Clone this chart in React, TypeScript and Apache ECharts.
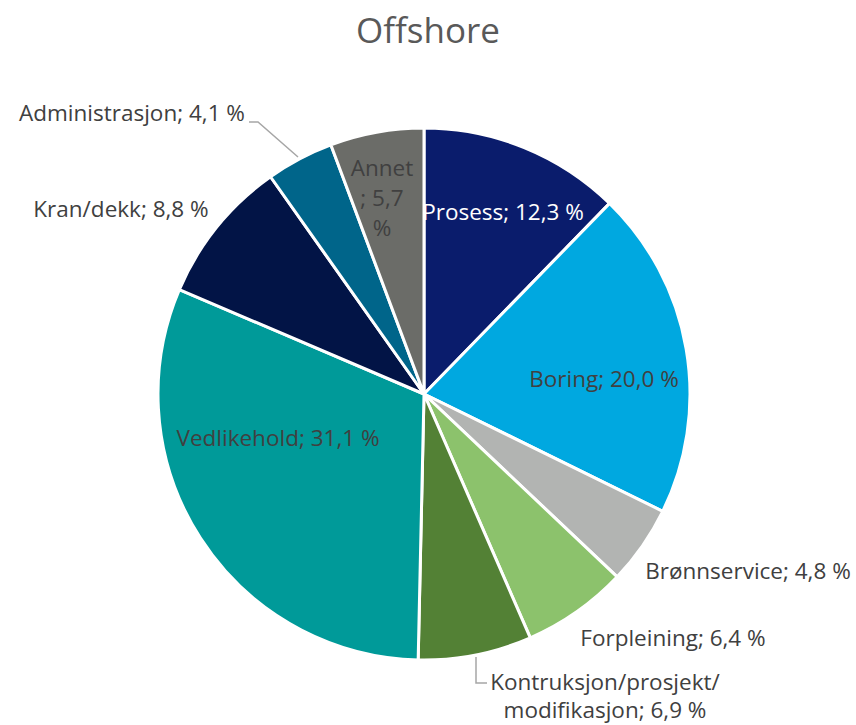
import React, { useEffect, useRef } from "react";
import * as echarts from "echarts";

const categories = [
  "Prosess",
  "Boring",
  "Brønnservice",
  "Forpleining",
  "Kontruksjon/prosjekt/\nmodifikasjon",
  "Vedlikehold",
  "Kran/dekk",
  "Administrasjon",
  "Annet",
];
const values = [12.3, 20.0, 4.8, 6.4, 6.9, 31.1, 8.8, 4.1, 5.7];
const colors = [
  "#0A1C6C",
  "#00A8E0",
  "#B2B4B2",
  "#8CC26C",
  "#538135",
  "#009A99",
  "#021446",
  "#00658A",
  "#6B6C68",
];

// label placement (layout only)
const labelPos: { x: number; y: number; color: string; lh: number; line?: number[][] }[] = [
  { x: 503, y: 211, color: "#ffffff", lh: 30 },
  { x: 604, y: 378, color: "#404040", lh: 30 },
  { x: 748, y: 570, color: "#404040", lh: 30 },
  { x: 673, y: 637, color: "#404040", lh: 30 },
  { x: 605, y: 695, color: "#404040", lh: 28, line: [[476, 657], [476, 683], [487, 683]] },
  { x: 278, y: 437, color: "#404040", lh: 30 },
  { x: 121, y: 208, color: "#404040", lh: 30 },
  { x: 132, y: 112, color: "#404040", lh: 30, line: [[298, 157], [258, 122], [249, 122]] },
  { x: 382, y: 197, color: "#404040", lh: 30 },
];

const fmt = (v: number) => v.toFixed(1).replace(".", ",") + " %";

export default function App() {
  const ref = useRef<HTMLDivElement>(null);
  useEffect(() => {
    document.body.style.margin = "0";
    const chart = echarts.init(ref.current!, null, { renderer: "svg" });
    const data = categories.map((name, i) => ({
      name,
      value: values[i],
      itemStyle: { color: colors[i] },
      label: { color: labelPos[i].color, lineHeight: labelPos[i].lh },
      labelLine: { show: !!labelPos[i].line },
    }));
    chart.setOption({
      animation: false,
      backgroundColor: "#ffffff",
      title: {
        text: "Offshore",
        left: "center",
        top: 7,
        textStyle: {
          fontFamily: "Open Sans",
          fontSize: 35,
          fontWeight: "normal",
          color: "#595959",
        },
      },
      series: [
        {
          type: "pie",
          center: [424, 394],
          radius: [0, 266],
          startAngle: 90,
          clockwise: true,
          avoidLabelOverlap: false,
          itemStyle: { borderColor: "#ffffff", borderWidth: 3 },
          label: {
            show: true,
            position: "outside",
            fontFamily: "Open Sans",
            fontSize: 22.5,
            lineHeight: 30,
            align: "center",
            formatter: (p: any) =>
              p.name === "Annet"
                ? "Annet\n; " + fmt(p.value).replace(" %", "") + "\n%"
                : p.name.replace("\n", "") === "Kontruksjon/prosjekt/modifikasjon"
                ? "Kontruksjon/prosjekt/\nmodifikasjon; " + fmt(p.value)
                : p.name + "; " + fmt(p.value),
          },
          labelLine: {
            show: true,
            lineStyle: { color: "#A6A6A6", width: 1.5 },
          },
          labelLayout: (params: any) => {
            const lp = labelPos[params.dataIndex];
            const out: any = {
              x: lp.x,
              y: lp.y,
              align: "center",
              verticalAlign: "middle",
            };
            if (lp.line) out.labelLinePoints = lp.line;
            return out;
          },
          data,
        },
      ],
    });
    return () => chart.dispose();
  }, []);
  return <div ref={ref} style={{ width: 856, height: 725 }} />;
}
